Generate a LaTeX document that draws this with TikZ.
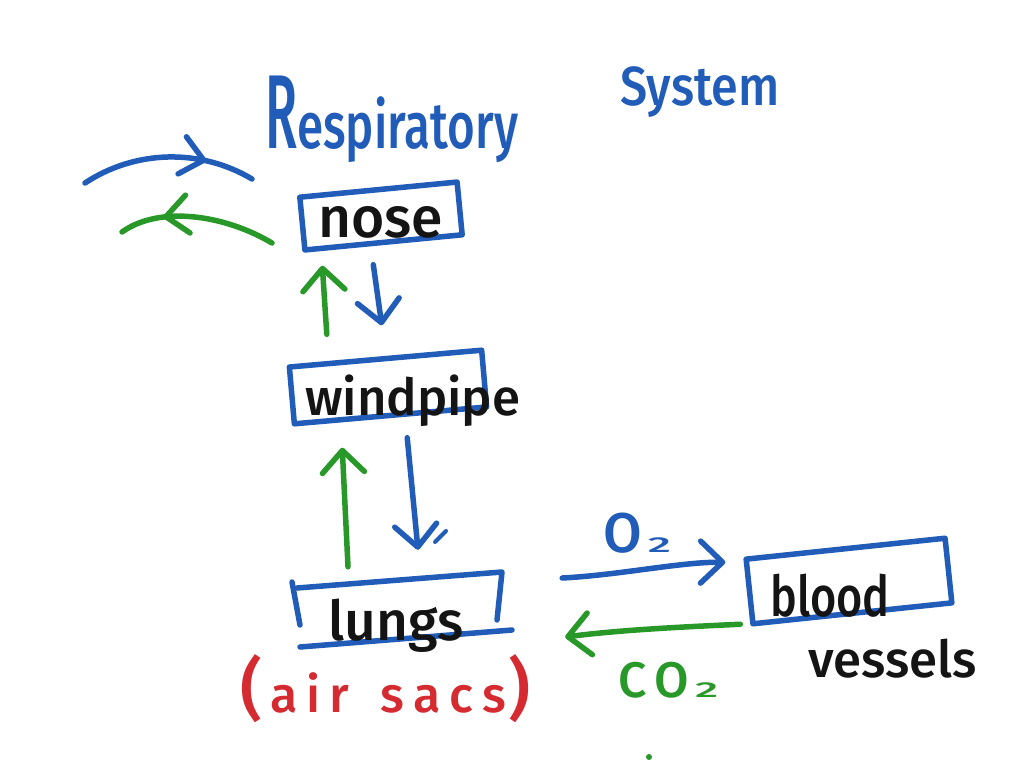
\documentclass[tikz,border=0pt]{standalone}
\usepackage{fontspec}
\usepackage{graphicx}
\setmainfont{Fira Sans Medium}
\newfontfamily\spacedfont[LetterSpace=18]{Fira Sans Medium}
\usetikzlibrary{arrows.meta,calc,decorations.markings}
\definecolor{inkblue}{RGB}{32,92,184}
\definecolor{inkgreen}{RGB}{40,152,40}
\definecolor{inkred}{RGB}{212,42,48}
\definecolor{inkblack}{RGB}{20,20,20}
\tikzset{
  ink/.style={line width=5.5pt, line cap=round, line join=round},
  boxshape/.style={ink, draw=inkblue, rectangle, inner sep=0pt},
  barbtip/.style={-{Straight Barb[round,length=22pt,width=42pt]}},
  bluearrow/.style={ink, draw=inkblue, barbtip},
  greenarrow/.style={ink, draw=inkgreen, barbtip},
  midbarb/.style={postaction={decorate}, decoration={markings,
      mark=at position #1 with {\arrow{Straight Barb[round,length=22pt,width=38pt]}}}},
  lbl/.style={inner sep=0pt, anchor=base west, text=inkblack},
  big/.style={font=\fontsize{#1}{#1}\selectfont},
}
\newcommand{\subtwo}{\scalebox{1.9}[0.9]{\fontsize{24}{24}\selectfont 2}}
\begin{document}
\begin{tikzpicture}[x=1pt,y=-1pt]
\useasboundingbox (0,0) rectangle (1024,768);
\fill[white] (0,0) rectangle (1024,768);

% title
\node[lbl, text=inkblue, big=50] (title1) at (265,148) {\scalebox{1.05}[2.1]{R}\scalebox{0.95}[1.3]{espiratory}};
\node[lbl, text=inkblue, big=50] (title2) at (620,105) {\scalebox{0.97}[1.1]{System}};

% boxes
\node[boxshape, minimum width=158pt, minimum height=53pt, rotate=5.5] (nose) at (381,216) {};
\node[boxshape, minimum width=193pt, minimum height=57pt, rotate=5] (windpipe) at (388,387) {};
\node[inner sep=0pt, minimum width=215pt, minimum height=60pt] (lungs) at (402,610) {};
\node[boxshape, minimum width=200pt, minimum height=65pt, rotate=6] (blood) at (849,581) {};

% open lungs box
\draw[ink, inkblue] ($(lungs)+(-102,15)$) -- ($(lungs)+(-110,-28)$);
\draw[ink, inkblue] ($(lungs)+(-105,-22)$) -- ($(lungs)+(100,-38)$) -- ($(lungs)+(95,10)$);
\draw[ink, inkblue] ($(lungs)+(-102,37)$) -- ($(lungs)+(110,20)$);

% labels
\node[lbl, big=57] (nosetxt) at (318,237) {nose};
\node[lbl, big=51] (windtxt) at (305,415) {windpipe};
\node[lbl, big=55] (lungstxt) at (328,640) {lungs};
\node[lbl, big=45] (bloodtxt) at (770,616) {\scalebox{1}[1.25]{blood}};
\node[lbl, big=51] (vesselstxt) at (808,677) {vessels};
\node[lbl, text=inkred, font=\spacedfont\fontsize{50}{50}\selectfont] (airsacs) at (240,712)
  {{\fontsize{68}{68}\selectfont(}\hspace{8pt}air\ \hspace{10pt}sacs\hspace{2pt}{\fontsize{68}{68}\selectfont)}};
\node[lbl, text=inkblue, big=56] (o2) at (603,552) {O\hspace{6pt}\subtwo};
\node[lbl, text=inkgreen, font=\spacedfont\fontsize{50}{50}\selectfont] (co2) at (618,697) {CO\hspace{6pt}\subtwo};

% breathing in / out near nose
\coordinate (inA) at (85,183);
\coordinate (inB) at (252,179);
\coordinate (outA) at (272,243);
\coordinate (outB) at (122,232);
\draw[ink, inkblue, midbarb=0.72] (inA) .. controls (135,150) and (200,148) .. (inB);
\draw[ink, inkgreen, midbarb=0.72] (outA) .. controls (225,215) and (160,205) .. (outB);

% nose <-> windpipe
\draw[greenarrow] ($(windpipe.north)+(-58.5,-21.6)$) -- ($(nose.south)+(-61.5,20.6)$);
\draw[bluearrow] ($(nose.south)+(-10.5,19.6)$) -- ($(windpipe.north)+(-3.5,-30.6)$);

% windpipe <-> lungs
\draw[greenarrow] ($(lungs.north)+(-54,-13)$) -- ($(windpipe.south)+(-48.5,29.6)$);
\draw[bluearrow] ($(windpipe.south)+(16.5,19.6)$) -- ($(lungs.north)+(16,-30)$);
\coordinate (tickA) at (435,542);
\coordinate (tickB) at (446,531);
\draw[ink, inkblue, line width=4pt] (tickA) -- (tickB);

% lungs <-> blood
\draw[bluearrow] ($(lungs.east)+(52.5,-32)$) .. controls (620,575) and (680,562) .. ($(blood.west)+(-21.5,-29.5)$);
\draw[greenarrow] ($(blood.west)+(-6.5,32.5)$) .. controls (680,627) and (620,630) .. ($(lungs.east)+(55.5,27)$);

% stray dot
\fill[inkgreen] (649,757) circle (3pt);
\end{tikzpicture}
\end{document}
